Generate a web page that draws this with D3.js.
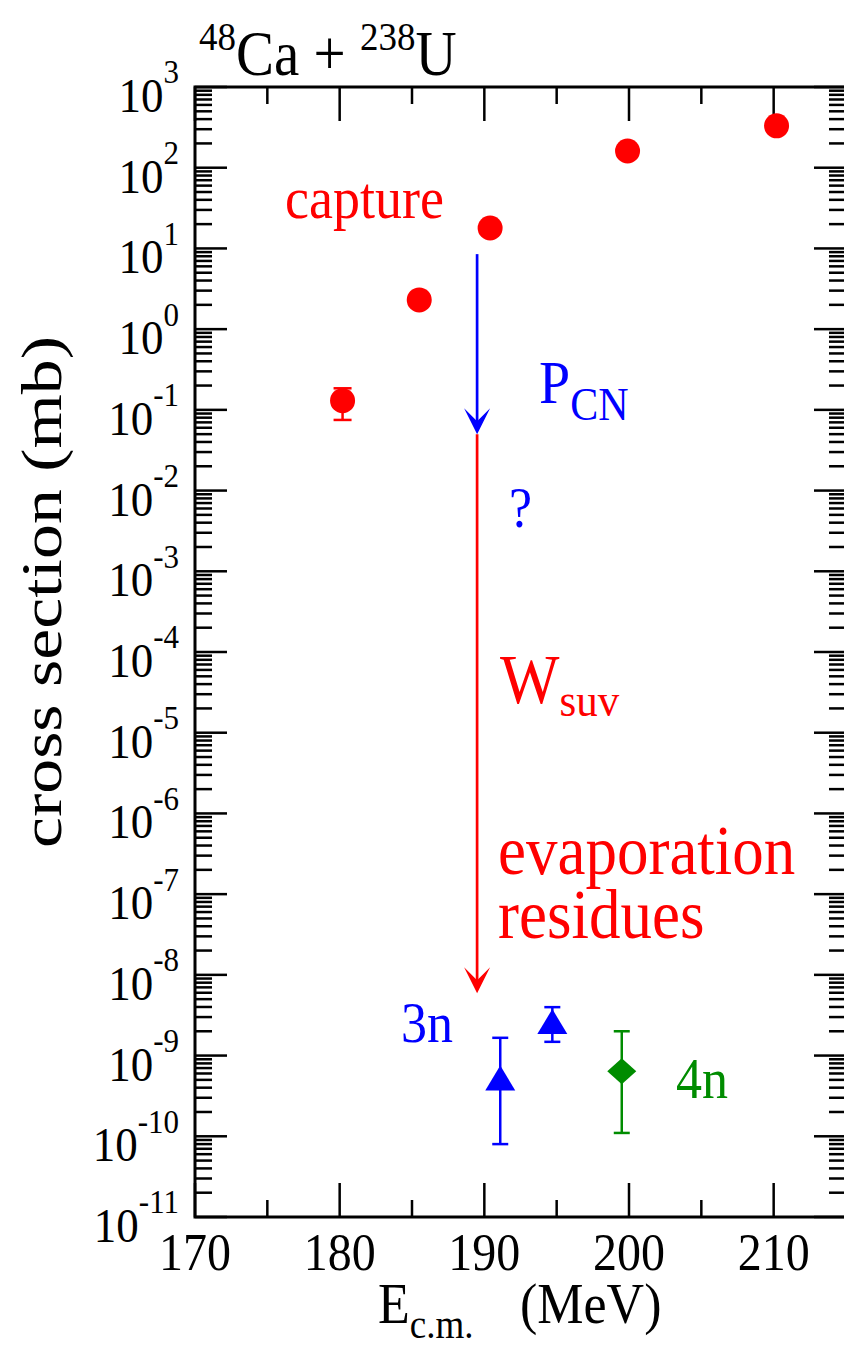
<!DOCTYPE html>
<html>
<head>
<meta charset="utf-8">
<script src="https://cdn.jsdelivr.net/npm/d3@7"></script>
<style>
  html, body { margin: 0; padding: 0; background: #fff; }
  svg { display: block; }
</style>
</head>
<body>
<svg id="chart" width="844" height="1346" font-family="'Liberation Serif', 'Times New Roman', Times, 'DejaVu Serif', serif"></svg>
<script>
// ---- data ----
const xTickValues = [170, 180, 190, 200, 210];
const xMinorTicks = [175, 185, 195, 205];
const yDecades = [-11, -10, -9, -8, -7, -6, -5, -4, -3, -2, -1, 0, 1, 2, 3];

// capture cross sections (red circles)
const captureE = [180.2, 185.5, 190.4, 199.9, 210.2];
const captureSigma = [0.13, 2.3, 17.9, 161, 330];
const captureLo = [0.075, 2.3, 17.9, 161, 330];
const captureHi = [0.185, 2.3, 17.9, 161, 330];

// 3n evaporation residues (blue triangles)
const n3E = [191.1, 194.7];
const n3Sigma = [5.2e-10, 2.6e-9];
const n3Lo = [8.0e-11, 1.48e-9];
const n3Hi = [1.66e-9, 3.98e-9];

// 4n evaporation residues (green diamond)
const n4E = [199.5];
const n4Sigma = [6.4e-10];
const n4Lo = [1.1e-10];
const n4Hi = [2.0e-9];

// arrows: P_CN (blue) and W_suv (red)
const arrowE = 189.5;
const pcnFrom = 8.5, pcnTo = 0.05;
const wsuvFrom = 0.05, wsuvTo = 5.9e-9;

// ---- layout ----
const svg = d3.select("#chart");
const L = 195, R = 846, T = 87, B = 1217;
const VS = 1.1; // vertical stretch of the lettering
const x = d3.scaleLinear().domain([170, 215]).range([L, R]);
const y = d3.scaleLog().domain([1e-11, 1e3]).range([B, T]);

const RED = "#ff0000", BLUE = "#0000ff", GREEN = "#008c00";

function label(px, py, color, anchor) {
  return svg.append("text")
    .attr("transform", `translate(${px},${py}) scale(1,${VS})`)
    .attr("text-anchor", anchor || "start")
    .attr("fill", color || "#000");
}

// ---- axes frame ----
svg.append("rect").attr("x", L).attr("y", T)
  .attr("width", R - L).attr("height", B - T)
  .attr("fill", "none").attr("stroke", "#000").attr("stroke-width", 3);

const axG = svg.append("g").attr("stroke", "#000").attr("stroke-width", 2.5);
xTickValues.forEach(v => {
  axG.append("line").attr("x1", x(v)).attr("x2", x(v)).attr("y1", B).attr("y2", B - 34);
  axG.append("line").attr("x1", x(v)).attr("x2", x(v)).attr("y1", T).attr("y2", T + 34);
});
xMinorTicks.forEach(v => {
  axG.append("line").attr("x1", x(v)).attr("x2", x(v)).attr("y1", B).attr("y2", B - 17);
  axG.append("line").attr("x1", x(v)).attr("x2", x(v)).attr("y1", T).attr("y2", T + 17);
});
yDecades.forEach(d => {
  const v = Math.pow(10, d);
  axG.append("line").attr("x1", L).attr("x2", L + 32).attr("y1", y(v)).attr("y2", y(v));
  axG.append("line").attr("x1", R).attr("x2", R - 32).attr("y1", y(v)).attr("y2", y(v));
  if (d < 3) {
    for (let k = 2; k <= 9; k++) {
      const m = k * v;
      axG.append("line").attr("x1", L).attr("x2", L + 17).attr("y1", y(m)).attr("y2", y(m));
      axG.append("line").attr("x1", R).attr("x2", R - 17).attr("y1", y(m)).attr("y2", y(m));
    }
  }
});

// x tick labels
xTickValues.forEach(v => {
  label(x(v), 1270, "#000", "middle").attr("font-size", 48).text(v);
});

// y tick labels 10^d
yDecades.forEach(d => {
  const t = label(179, y(Math.pow(10, d)) + 25, "#000", "end");
  t.append("tspan").attr("font-size", 45).text("10");
  t.append("tspan").attr("font-size", 31).attr("dy", -26).text(d < 0 ? "-" + (-d) : String(d));
});

// axis titles
svg.append("text").attr("transform", "translate(61,592) rotate(-90)")
  .attr("text-anchor", "middle").attr("font-size", 58).attr("fill", "#000")
  .attr("textLength", 512).attr("lengthAdjust", "spacingAndGlyphs")
  .text("cross section (mb)");

const xt = label(378, 1323);
xt.append("tspan").attr("font-size", 52).text("E");
xt.append("tspan").attr("font-size", 37).attr("dy", 14).text("c.m.");
const xt2 = label(520, 1323);
xt2.append("tspan").attr("font-size", 52).text("(MeV)");

// title
const tt = label(199, 75);
tt.append("tspan").attr("font-size", 37).attr("dy", -23).text("48");
tt.append("tspan").attr("font-size", 57).attr("dy", 23).text("Ca + ");
tt.append("tspan").attr("font-size", 37).attr("dy", -23).text("238");
tt.append("tspan").attr("font-size", 57).attr("dy", 23).text("U");

// ---- data marks ----
const plot = svg.append("g");

function errBars(E, lo, hi, color, cap) {
  const g = plot.append("g").attr("stroke", color).attr("stroke-width", 2.5);
  E.forEach((e, i) => {
    if (lo[i] === hi[i]) return;
    g.append("line").attr("x1", x(e)).attr("x2", x(e)).attr("y1", y(lo[i])).attr("y2", y(hi[i]));
    g.append("line").attr("x1", x(e) - cap).attr("x2", x(e) + cap).attr("y1", y(lo[i])).attr("y2", y(lo[i]));
    g.append("line").attr("x1", x(e) - cap).attr("x2", x(e) + cap).attr("y1", y(hi[i])).attr("y2", y(hi[i]));
  });
}

errBars(captureE, captureLo, captureHi, RED, 9);
plot.append("g").selectAll("circle").data(captureE).join("circle")
  .attr("cx", d => x(d)).attr("cy", (d, i) => y(captureSigma[i]))
  .attr("r", 12.5).attr("fill", RED);

errBars(n3E, n3Lo, n3Hi, BLUE, 8);
plot.append("g").selectAll("path").data(n3E).join("path")
  .attr("transform", (d, i) => `translate(${x(d)},${y(n3Sigma[i])})`)
  .attr("d", "M0,-13L15,12L-15,12Z").attr("fill", BLUE);

errBars(n4E, n4Lo, n4Hi, GREEN, 8);
plot.append("g").selectAll("path").data(n4E).join("path")
  .attr("transform", (d, i) => `translate(${x(d)},${y(n4Sigma[i])})`)
  .attr("d", "M0,-13L14.5,0L0,13L-14.5,0Z").attr("fill", GREEN);

function arrow(from, to, color) {
  const ax = x(arrowE);
  plot.append("line").attr("x1", ax).attr("x2", ax)
    .attr("y1", y(from)).attr("y2", y(to) - 12)
    .attr("stroke", color).attr("stroke-width", 2.7);
  plot.append("path")
    .attr("transform", `translate(${ax},${y(to)})`)
    .attr("d", "M0,0L-13,-26L0,-13L13,-26Z").attr("fill", color);
}
arrow(pcnFrom, pcnTo, BLUE);
arrow(wsuvFrom, wsuvTo, RED);

// ---- annotations ----
label(285, 218, RED).attr("font-size", 54).text("capture");

const pcn = label(539, 403, BLUE);
pcn.append("tspan").attr("font-size", 56).text("P");
pcn.append("tspan").attr("font-size", 42).attr("dy", 15).text("CN");

label(509, 527, BLUE).attr("font-size", 52).text("?");

const ws = label(500, 703, RED);
ws.append("tspan").attr("font-size", 63).text("W");
ws.append("tspan").attr("font-size", 43).attr("dy", 12).text("suv");

label(498, 874, RED).attr("font-size", 63).text("evaporation");
label(498, 938, RED).attr("font-size", 63).text("residues");

label(401, 1042, BLUE).attr("font-size", 52).text("3n");
label(676, 1098, GREEN).attr("font-size", 52).text("4n");
</script>
</body>
</html>
